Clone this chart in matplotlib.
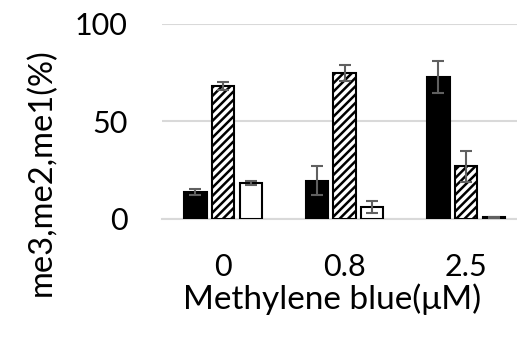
import numpy as np
import matplotlib.pyplot as plt

categories = ["0", "0.8", "2.5"]
me3 = [13.9, 19.5, 72.9]
me3_err = [1.5, 7.4, 8.1]
me2 = [68.0, 74.8, 26.9]
me2_err = [2.0, 3.9, 7.8]
me1 = [18.5, 6.0, 0.7]
me1_err = [1.1, 3.3, 0.2]

plt.rcParams['font.family'] = ['Lato', 'DejaVu Sans']
plt.rcParams['hatch.linewidth'] = 1.8

fig = plt.figure(figsize=(5.17, 3.38), dpi=100)
# plot area runs a little past the right edge, like the original
ax = fig.add_axes([0.314, 0.353, 0.705, 0.576])

x = np.arange(len(categories))
w = 0.184
step = 0.228
err_kw = dict(ecolor='#606060', elinewidth=1.5, capsize=4.3, capthick=1.5)

ax.bar(x - step, me3, w, yerr=me3_err, color='black', edgecolor='black',
       linewidth=1.5, error_kw=err_kw, zorder=3)
ax.bar(x, me2, w, yerr=me2_err, color='white', edgecolor='black', hatch='////',
       linewidth=1.5, error_kw=err_kw, zorder=3)
ax.bar(x + step, me1, w, yerr=me1_err, color='white', edgecolor='black',
       linewidth=1.5, error_kw=err_kw, zorder=3)

ax.set_xlim(-0.5, 2.5)
ax.set_ylim(0, 100)
ax.set_yticks([0, 50, 100])
ax.set_xticks(x)
ax.set_xticklabels(categories)
ax.tick_params(axis='y', length=0, labelsize=22, colors='black', pad=25)
ax.tick_params(axis='x', length=0, labelsize=22, colors='black', pad=25)
ax.yaxis.grid(True, color='#d9d9d9', linewidth=1.5, zorder=0)
ax.set_axisbelow(True)
for s in ['top', 'right', 'left']:
    ax.spines[s].set_visible(False)
ax.spines['bottom'].set_color('#d9d9d9')
ax.spines['bottom'].set_linewidth(1.5)

fig.text(332 / 517, 1 - 299 / 338, 'Methylene blue(μM)', fontsize=24,
         ha='center', va='center')
fig.text(42 / 517, 1 - 172 / 338, 'me3,me2,me1(%)', fontsize=23.5,
         rotation=90, ha='center', va='center')

fig.savefig('out.png', dpi=100)
